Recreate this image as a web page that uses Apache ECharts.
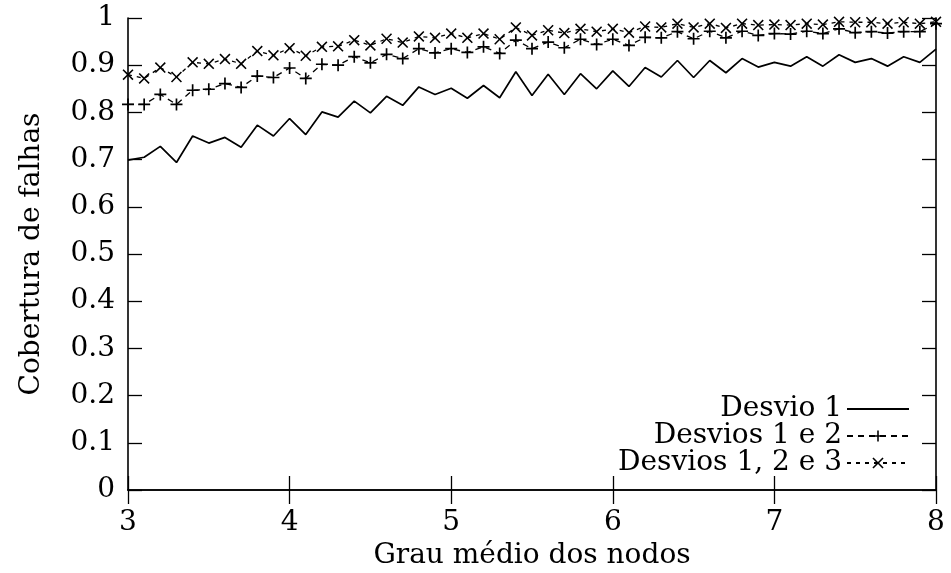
<!DOCTYPE html>
<html>
<head>
<meta charset="utf-8">
<script src="https://cdn.jsdelivr.net/npm/echarts@6/dist/echarts.min.js"></script>
<style>
html,body{margin:0;padding:0;background:#fff;}
#chart{width:951px;height:573px;}
</style>
</head>
<body>
<div id="chart"></div>
<script>
var xs = [3.0,3.1,3.2,3.3,3.4,3.5,3.6,3.7,3.8,3.9,4.0,4.1,4.2,4.3,4.4,4.5,4.6,4.7,4.8,4.9,5.0,5.1,5.2,5.3,5.4,5.5,5.6,5.7,5.8,5.9,6.0,6.1,6.2,6.3,6.4,6.5,6.6,6.7,6.8,6.9,7.0,7.1,7.2,7.3,7.4,7.5,7.6,7.7,7.8,7.9,8.0];
var desvio1 = [0.699,0.705,0.728,0.694,0.750,0.735,0.747,0.726,0.773,0.750,0.787,
  0.753,0.801,0.790,0.824,0.799,0.834,0.815,0.854,0.838,0.851,
  0.830,0.857,0.831,0.886,0.836,0.881,0.838,0.882,0.850,0.888,
  0.855,0.895,0.875,0.910,0.874,0.910,0.884,0.914,0.896,0.906,
  0.898,0.918,0.898,0.922,0.906,0.914,0.898,0.918,0.906,0.934];
var desvios12 = [0.817,0.817,0.838,0.817,0.847,0.849,0.861,0.853,0.877,0.874,0.894,
  0.872,0.902,0.900,0.918,0.905,0.923,0.914,0.935,0.926,0.935,
  0.927,0.939,0.925,0.953,0.935,0.949,0.937,0.955,0.944,0.955,
  0.942,0.959,0.958,0.971,0.956,0.972,0.958,0.972,0.963,0.967,
  0.966,0.972,0.967,0.977,0.969,0.971,0.968,0.971,0.971,0.988];
var desvios123 = [0.880,0.872,0.895,0.875,0.906,0.903,0.913,0.903,0.930,0.921,0.936,
  0.920,0.939,0.940,0.953,0.942,0.956,0.948,0.961,0.958,0.967,
  0.958,0.967,0.955,0.980,0.963,0.974,0.968,0.977,0.971,0.977,
  0.969,0.982,0.980,0.988,0.980,0.988,0.979,0.988,0.985,0.986,
  0.985,0.988,0.986,0.992,0.991,0.991,0.988,0.991,0.988,0.992];
var seriesNames = ['Desvio 1','Desvios 1 e 2','Desvios 1, 2 e 3'];
var xTickLabels = ['3','4','5','6','7','8'];
var yTickLabels = ['0','0.1','0.2','0.3','0.4','0.5','0.6','0.7','0.8','0.9','1'];

function pairs(vals){ return xs.map(function(x,i){ return [x, vals[i]]; }); }

var FONT = 'DejaVu Serif';
var FS = 28;
var PLUS = 'path://M4.3,0H5.7V4.3H10V5.7H5.7V10H4.3V5.7H0V4.3H4.3Z';
var CROSS = 'path://M1,0L5,4L9,0L10,1L6,5L10,9L9,10L5,6L1,10L0,9L4,5L0,1Z';

var chart = echarts.init(document.getElementById('chart'), null, {renderer:'canvas'});
var axisLine = {show:true, lineStyle:{color:'#000', width:1.6}};
var tick = {show:true, inside:true, length:14, lineStyle:{color:'#000', width:1.3}};
function legendAt(name, top, hideSymbol){
  var l = {
    data:[name], right:41, top:top, orient:'horizontal', align:'right', padding:0,
    itemWidth:62, itemHeight:14, itemGap:0, selectedMode:false,
    textStyle:{fontFamily:FONT, fontSize:FS, color:'#000'}
  };
  if (hideSymbol) l.itemStyle = {opacity:0};
  return l;
}
chart.setOption({
  animation:false,
  backgroundColor:'#fff',
  textStyle:{fontFamily:FONT},
  grid:{left:128, right:15, top:18, bottom:83, containLabel:false, outerBoundsMode:'none'},
  legend:[legendAt(seriesNames[0],395,true), legendAt(seriesNames[1],422), legendAt(seriesNames[2],449)],
  xAxis:[{
    type:'value', min:3, max:8, interval:1,
    name:'Grau médio dos nodos', nameLocation:'middle', nameGap:52,
    nameTextStyle:{fontFamily:FONT, fontSize:FS, color:'#000'},
    axisLine:axisLine, axisTick:tick, splitLine:{show:false},
    axisLabel:{margin:19, fontFamily:FONT, fontSize:FS, color:'#000',
      formatter:function(v){ return xTickLabels[Math.round(v-3)]; }}
  },{
    type:'value', min:3, max:8, interval:1, position:'top',
    axisLine:axisLine, axisTick:tick, axisLabel:{show:false}, splitLine:{show:false}
  }],
  yAxis:[{
    type:'value', min:0, max:1, interval:0.1,
    name:'Cobertura de falhas', nameLocation:'middle', nameGap:82, nameRotate:90,
    nameTextStyle:{fontFamily:FONT, fontSize:FS, color:'#000'},
    axisLine:axisLine, axisTick:tick, splitLine:{show:false},
    axisLabel:{margin:13, fontFamily:FONT, fontSize:FS, color:'#000',
      formatter:function(v){ return yTickLabels[Math.round(v*10)]; }}
  },{
    type:'value', min:0, max:1, interval:0.1, position:'right',
    axisLine:axisLine, axisTick:tick, axisLabel:{show:false}, splitLine:{show:false}
  }],
  series:[{
    name:seriesNames[0], type:'line', data:pairs(desvio1), showSymbol:false, symbol:'none',
    lineStyle:{color:'#000', width:1.7}, itemStyle:{color:'#000'}
  },{
    name:seriesNames[1], type:'line', data:pairs(desvios12), symbol:PLUS, symbolSize:12,
    lineStyle:{color:'#000', width:1.3, type:[6,5]}, itemStyle:{color:'#000'}
  },{
    name:seriesNames[2], type:'line', data:pairs(desvios123), symbol:CROSS, symbolSize:11,
    lineStyle:{color:'#000', width:1.3, type:[4,5]}, itemStyle:{color:'#000'}
  }]
});
</script>
</body>
</html>
